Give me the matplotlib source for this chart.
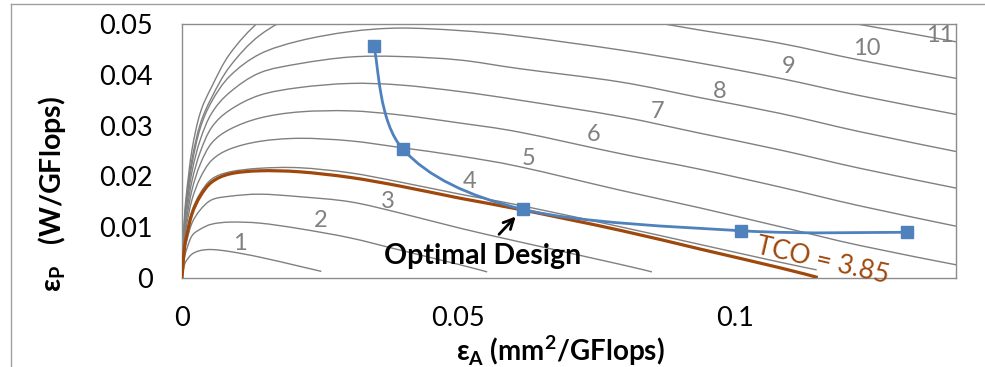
import matplotlib
matplotlib.use('Agg')
import matplotlib.pyplot as plt
from matplotlib.path import Path
from matplotlib.patches import PathPatch
import numpy as np

plt.rcParams['font.family'] = ['Lato', 'DejaVu Sans']
plt.rcParams['mathtext.fontset'] = 'custom'
plt.rcParams['mathtext.rm'] = 'Lato'
plt.rcParams['mathtext.bf'] = 'Lato:bold'

# area efficiency grid (mm^2/GFlops) shared by the TCO iso-curves
ea_grid = [0, 0.0004, 0.0008, 0.0018, 0.0033, 0.0054, 0.0087, 0.0141, 0.0213,
           0.0304, 0.0394, 0.0503, 0.0611, 0.0792, 0.0937, 0.1082, 0.1226, 0.14]

# power efficiency (W/GFlops) along each iso-TCO curve
tco1 = [0, 0.0024, 0.0034, 0.0047, 0.0054, 0.0056, 0.0052, 0.0041, 0.0023]
tco1_end = (0.0252, 0.0013)
tco2 = [0, 0.0037, 0.0055, 0.0083, 0.0096, 0.0106, 0.0110, 0.0108, 0.0097,
        0.0079, 0.0055, 0.0026]
tco2_end = (0.0552, 0.0012)
tco3 = [0, 0.0049, 0.0071, 0.0108, 0.0134, 0.0154, 0.0161, 0.0165, 0.0160,
        0.0150, 0.0128, 0.0098, 0.0071, 0.0027]
tco3_end = (0.0850, 0.0012)
tco4 = [0, 0.0061, 0.0087, 0.0132, 0.0167, 0.0195, 0.0209, 0.0216, 0.0217,
        0.0207, 0.0189, 0.0165, 0.0143, 0.0101, 0.0066, 0.0031]
tco4_end = (0.1148, 0.0016)
tco5 = [0, 0.0071, 0.0102, 0.0154, 0.0197, 0.0232, 0.0254, 0.0269, 0.0275,
        0.0270, 0.0257, 0.0240, 0.0219, 0.0173, 0.0138, 0.0101, 0.0064, 0.0026]
tco6 = [0, 0.0079, 0.0114, 0.0173, 0.0224, 0.0266, 0.0293, 0.0315, 0.0327,
        0.0329, 0.0321, 0.0305, 0.0287, 0.0245, 0.0214, 0.0179, 0.0142, 0.0102]
tco7 = [0, 0.0087, 0.0126, 0.0191, 0.0248, 0.0297, 0.0331, 0.0360, 0.0375,
        0.0383, 0.0380, 0.0367, 0.0350, 0.0318, 0.0285, 0.0252, 0.0216, 0.0177]
tco8 = [0, 0.0093, 0.0138, 0.0209, 0.0272, 0.0325, 0.0366, 0.0404, 0.0422,
        0.0435, 0.0436, 0.0429, 0.0412, 0.0386, 0.0355, 0.0324, 0.0288, 0.0249]
tco9 = [0, 0.0098, 0.0148, 0.0224, 0.0295, 0.0348, 0.0398, 0.0441, 0.0467,
        0.0485, 0.0492, 0.0487, 0.0476, 0.0449, 0.0423, 0.0393, 0.0359, 0.0322]
tco10 = [0, 0.0104, 0.0156, 0.0234, 0.0303, 0.0356, 0.0417, 0.0478, 0.0520,
         0.0539, 0.0547, 0.0545, 0.0537, 0.0514, 0.0488, 0.0462, 0.0429, 0.0393]
tco11 = [0, 0.0110, 0.0165, 0.0252, 0.0325, 0.0377, 0.0442, 0.0506, 0.0557,
         0.0585, 0.0594, 0.0594, 0.0589, 0.0571, 0.0547, 0.0526, 0.0499, 0.0465]

# the TCO = 3.85 curve
tco385 = [0, 0.0055, 0.0081, 0.0126, 0.0161, 0.0189, 0.0205, 0.0211, 0.0209,
          0.0198, 0.0181, 0.0157, 0.0135, 0.0094, 0.0057, 0.0020]
tco385_end = (0.1150, 0.0001)

# design points
design_ea = [0.0347, 0.0400, 0.0617, 0.1012, 0.1312]
design_ep = [0.0456, 0.0253, 0.0135, 0.0093, 0.0090]

# curve label positions
label_text = ['1', '2', '3', '4', '5', '6', '7', '8', '9', '10', '11']
label_x = [0.0105, 0.0250, 0.0373, 0.0521, 0.0626, 0.0744, 0.0861, 0.0973,
           0.1098, 0.1239, 0.1370]
label_y = [0.0068, 0.0114, 0.0150, 0.0190, 0.0236, 0.0282, 0.0327, 0.0367,
           0.0416, 0.0452, 0.0478]

GRAY = '#808080'
BROWN = '#A0480C'
BLUE = '#4F81BD'


def smooth_path(xs, ys):
    # Catmull-Rom style bezier through the points (like a smoothed line)
    pts = np.column_stack([xs, ys]).astype(float)
    n = len(pts)
    verts = [pts[0]]
    codes = [Path.MOVETO]
    for i in range(n - 1):
        p0 = pts[max(i - 1, 0)]
        p1 = pts[i]
        p2 = pts[i + 1]
        p3 = pts[min(i + 2, n - 1)]
        verts += [p1 + (p2 - p0) / 6, p2 - (p3 - p1) / 6, p2]
        codes += [Path.CURVE4] * 3
    return Path(verts, codes)


def add_curve(ax, xs, ys, color, lw, z):
    ax.add_patch(PathPatch(smooth_path(xs, ys), fill=False, edgecolor=color,
                           lw=lw, zorder=z, capstyle='butt'))


fig = plt.figure(figsize=(9.85, 3.67), dpi=100)
ax = fig.add_axes([182 / 985, 89 / 367, 774 / 985, 254 / 367])

curves = [(tco1, tco1_end), (tco2, tco2_end), (tco3, tco3_end),
          (tco4, tco4_end), (tco5, None), (tco6, None), (tco7, None),
          (tco8, None), (tco9, None), (tco10, None), (tco11, None)]
for ep, end in curves:
    xs = list(ea_grid[:len(ep)])
    ys = list(ep)
    if end is not None:
        xs.append(end[0])
        ys.append(end[1])
    add_curve(ax, xs, ys, GRAY, 1.0, 2)

add_curve(ax, ea_grid[:len(tco385)] + [tco385_end[0]],
          tco385 + [tco385_end[1]], BROWN, 2.3, 3)

add_curve(ax, design_ea, design_ep, BLUE, 2.0, 4)
ax.plot(design_ea, design_ep, 's', color=BLUE, ms=8, zorder=5)

for t, x, y in zip(label_text, label_x, label_y):
    ax.text(x, y, t, color=GRAY, fontsize=17, ha='center', va='center')

ax.text(0.1158, 0.0033, 'TCO = 3.85', color=BROWN, fontsize=19,
        rotation=-13, ha='center', va='center', rotation_mode='anchor')

ax.annotate('', xy=(design_ea[2] - 0.0010, design_ep[2] - 0.0010),
            xytext=(0.0570, 0.0082),
            arrowprops=dict(arrowstyle='->', color='black', lw=2.0,
                            mutation_scale=18))
ax.text(0.0543, 0.0043, 'Optimal Design', fontsize=20.5, fontweight='bold',
        ha='center', va='center')

ax.set_xlim(0, 0.14)
ax.set_ylim(0, 0.05)
ax.set_xticks([0, 0.05, 0.1])
ax.set_xticklabels(['0', '0.05', '0.1'])
ax.set_yticks([0, 0.01, 0.02, 0.03, 0.04, 0.05])
ax.set_yticklabels(['0', '0.01', '0.02', '0.03', '0.04', '0.05'])
ax.tick_params(axis='both', length=0, labelsize=19.5)
ax.tick_params(axis='y', pad=21)
ax.tick_params(axis='x', pad=20)
for sp in ax.spines.values():
    sp.set_color('#8C8C8C')
    sp.set_linewidth(1.0)

fig.text(560 / 985, 1 - 351 / 367,
         r'ε$_\mathbf{A}$ (mm$^\mathbf{2}$/GFlops)', fontsize=20,
         fontweight='bold', ha='center', va='center')
fig.text(52 / 985, 1 - 194 / 367, r'ε$_\mathbf{P}$   (W/GFlops)',
         fontsize=20.5, fontweight='bold', rotation=90, ha='center',
         va='center')

# chart area border
fig.add_artist(plt.Line2D([11 / 985, 1], [1 - 4 / 367, 1 - 4 / 367],
                          transform=fig.transFigure, color='#A0A0A0', lw=1))
fig.add_artist(plt.Line2D([11 / 985, 11 / 985], [0, 1 - 4 / 367],
                          transform=fig.transFigure, color='#A0A0A0', lw=1))

fig.savefig('out.png', dpi=100)
